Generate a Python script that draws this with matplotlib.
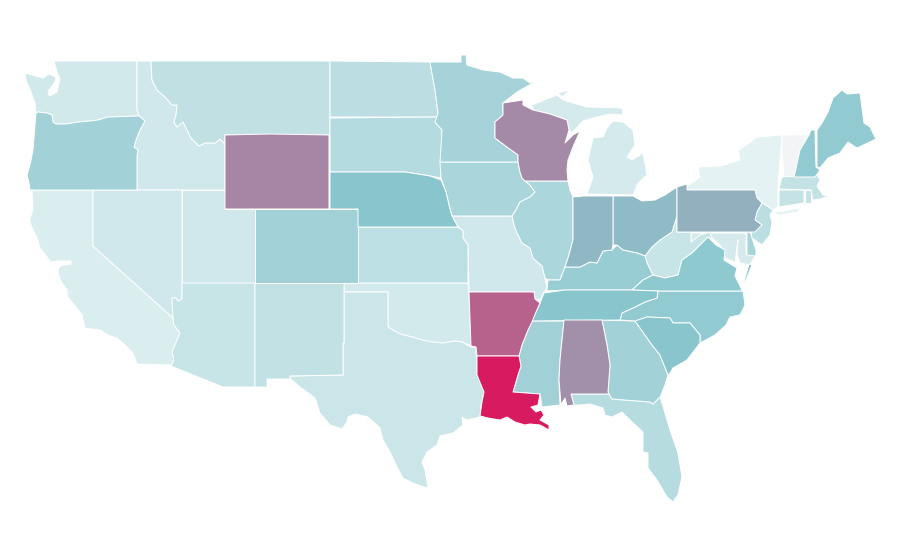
"""
plot.py
Choropleth of the lower 48 states, outlines traced from the picture in pixels.
"""

import matplotlib
matplotlib.use("Agg")
import matplotlib.pyplot as plt
from matplotlib.colors import LinearSegmentedColormap, Normalize
from matplotlib.patches import Polygon

STATES = ["VT", "NY", "CA", "WA", "MI", "ID", "NV", "UT", "OK", "MO", "MD", "TX",
          "AZ", "WV", "NM", "MT", "MA", "CT", "RI", "KS", "ND", "NJ", "FL", "SD",
          "IA", "IL", "DE", "MN", "OR", "GA", "CO", "MS", "KY", "NC", "ME", "NH",
          "VA", "TN", "NE", "SC", "OH", "IN", "PA", "AL", "WI", "WY", "AR", "LA"]
VALUES = [0, 6.5, 12, 16, 14.5, 17, 17, 17, 15.5, 16.5, 14.5, 19.5,
          21, 21, 23.5, 24.5, 23, 22, 22, 26, 26.5, 27, 28.5, 30,
          34.5, 34, 36, 37, 38, 38, 39, 39, 43, 46, 46, 46,
          47, 50, 50, 50, 53.5, 54, 56.5, 66, 67.5, 69, 79, 100]

# state outlines, in pixels of the 900x560 picture
OUTLINES = {
    "WA": [[(54, 61), (137, 61), (137, 110), (139, 116), (108, 117), (98, 120), (90, 121), (78, 122), (66, 124),
            (56, 124), (53, 122), (52, 115), (47, 113), (38, 112), (36, 113), (35, 103), (31, 92), (26, 80), (25, 73),
            (43, 78), (49, 74), (56, 77), (55, 82), (49, 90), (48, 94), (50, 96), (57, 92), (60, 79), (57, 72), (54, 61)]],
    "OR": [[(36, 113), (38, 112), (47, 113), (52, 115), (53, 122), (56, 124), (66, 124), (78, 122), (90, 121), (98, 120),
            (108, 117), (139, 116), (145, 121), (140, 130), (136, 140), (134, 147), (138, 150), (137, 156), (137, 190),
            (30, 190), (29, 183), (27, 175), (30, 165), (33, 150), (35, 125)]],
    "CA": [[(32, 190), (93, 190), (93, 246), (173, 318), (174, 325), (180, 333), (175, 345), (172, 352), (174, 360),
            (171, 365), (137, 364), (133, 353), (125, 345), (117, 338), (110, 336), (100, 330), (85, 328), (82, 315),
            (68, 297), (67, 290), (60, 280), (58, 270), (60, 266), (71, 264), (71, 261), (57, 261), (51, 262),
            (40, 248), (38, 240), (30, 223), (30, 218), (33, 210)]],
    "NV": [[(93, 190), (182, 190), (182, 299), (178, 301), (176, 298), (172, 298), (172, 300), (173, 318), (93, 246)]],
    "ID": [[(137, 61), (151, 61), (152, 80), (157, 90), (165, 97), (172, 105), (177, 105), (176, 115), (174, 122),
            (177, 127), (183, 122), (187, 130), (191, 138), (196, 143), (199, 146), (205, 143), (215, 143), (220, 139),
            (225, 144), (225, 190), (137, 190), (137, 156), (138, 150), (134, 147), (136, 140), (140, 130), (145, 121),
            (139, 116), (137, 110)]],
    "MT": [[(151, 61), (330, 61), (330, 135), (225, 135), (225, 144), (220, 139), (215, 143), (205, 143), (199, 146),
            (196, 143), (191, 138), (187, 130), (183, 122), (177, 127), (174, 122), (176, 115), (177, 105), (172, 105),
            (165, 97), (157, 90), (152, 80)]],
    "WY": [[(225, 135), (270, 134), (329, 135), (329, 209), (225, 209)]],
    "UT": [[(182, 190), (225, 190), (225, 209), (255, 209), (255, 283), (182, 283)]],
    "CO": [[(255, 209), (358, 209), (358, 283), (255, 283)]],
    "AZ": [[(182, 283), (255, 283), (255, 387), (223, 387), (171, 366), (174, 360), (172, 352), (175, 345), (180, 333),
            (174, 325), (173, 318), (172, 300), (172, 298), (176, 298), (178, 301), (182, 299)]],
    "NM": [[(255, 283), (344, 283), (344, 343), (343, 343), (343, 375), (290, 376), (290, 379), (267, 379), (267, 387),
            (255, 387)]],
    "TX": [[(344, 292), (388, 292), (388, 327), (400, 334), (412, 337), (422, 340), (432, 342), (443, 343), (455, 341),
            (462, 342), (471, 347), (476, 347), (477, 375), (484, 392), (481, 405), (480, 417), (467, 420), (462, 417),
            (463, 425), (453, 433), (440, 436), (437, 445), (427, 452), (422, 462), (425, 470), (428, 488), (415, 484),
            (403, 478), (397, 467), (390, 452), (383, 440), (380, 428), (368, 417), (355, 414), (348, 417), (347, 422),
            (342, 429), (330, 425), (320, 413), (315, 398), (300, 387), (290, 378), (290, 376), (343, 375), (343, 343),
            (344, 343)]],
    "OK": [[(344, 283), (468, 283), (469, 292), (471, 346), (462, 342), (455, 341), (443, 343), (432, 342), (422, 340),
            (412, 337), (400, 334), (388, 327), (388, 292), (344, 292)]],
    "KS": [[(358, 227), (458, 227), (463, 231), (463, 238), (468, 245), (468, 283), (358, 283)]],
    "NE": [[(330, 172), (405, 172), (418, 174), (430, 176), (441, 180), (446, 192), (449, 205), (452, 216), (458, 227),
            (358, 227), (358, 209), (330, 209)]],
    "SD": [[(330, 118), (438, 117), (435, 122), (442, 130), (441, 178), (430, 176), (418, 174), (405, 172), (330, 172)]],
    "ND": [[(330, 61), (430, 62), (435, 90), (438, 113), (438, 117), (330, 117)]],
    "MN": [[(430, 62), (461, 62), (461, 55), (466, 55), (467, 65), (483, 70), (500, 72), (513, 78), (523, 78), (530, 83),
            (540, 79), (533, 83), (517, 92), (503, 103), (503, 115), (495, 122), (495, 138), (507, 147), (518, 155),
            (518, 162), (440, 162), (442, 130), (435, 122), (438, 113), (435, 90)]],
    "IA": [[(440, 162), (518, 162), (520, 172), (522, 178), (530, 185), (535, 192), (530, 197), (520, 202), (516, 210),
            (512, 216), (452, 216), (449, 205), (446, 192), (441, 178)]],
    "MO": [[(452, 216), (512, 216), (514, 225), (517, 233), (522, 243), (530, 248), (533, 258), (542, 266), (545, 278),
            (547, 288), (544, 292), (540, 300), (535, 299), (534, 292), (469, 292), (468, 245), (463, 238), (463, 231),
            (458, 227)]],
    "AR": [[(469, 292), (534, 292), (535, 299), (540, 303), (536, 312), (532, 322), (528, 330), (522, 345), (519, 356),
            (477, 356), (476, 347), (471, 346)]],
    "LA": [[(477, 356), (519, 356), (521, 366), (518, 375), (513, 392), (540, 394), (538, 405), (531, 407), (536, 412),
            (541, 410), (544, 415), (540, 420), (549, 425), (549, 430), (540, 425), (530, 424), (525, 425), (515, 422),
            (507, 417), (500, 420), (488, 418), (480, 416), (482, 402), (484, 392), (477, 375)]],
    "MS": [[(531, 321), (564, 321), (560, 360), (559, 380), (560, 405), (542, 407), (540, 394), (513, 392), (518, 375),
            (521, 366), (519, 356), (522, 345), (528, 330)]],
    "AL": [[(564, 320), (602, 320), (607, 345), (610, 365), (608, 392), (609, 394), (571, 394), (574, 405), (567, 406),
            (565, 398), (561, 405), (559, 380), (560, 360)]],
    "FL": [[(571, 394), (609, 394), (612, 399), (650, 402), (653, 404), (660, 397), (662, 403), (670, 430), (678, 453),
            (682, 477), (678, 495), (673, 502), (667, 497), (657, 480), (648, 468), (648, 453), (643, 452), (643, 432),
            (630, 420), (622, 412), (612, 417), (605, 415), (603, 408), (590, 404), (580, 405), (574, 405)]],
    "GA": [[(602, 320), (635, 321), (640, 328), (652, 345), (660, 355), (666, 370), (668, 375), (665, 385), (661, 395),
            (660, 397), (653, 404), (650, 402), (612, 399), (609, 394), (608, 392), (610, 365), (607, 345)]],
    "SC": [[(635, 321), (647, 317), (670, 318), (673, 323), (690, 323), (700, 335), (700, 343), (687, 360), (673, 368),
            (670, 373), (668, 375), (666, 370), (660, 355), (652, 345), (640, 328)]],
    "NC": [[(658, 291), (743, 291), (745, 305), (740, 315), (730, 317), (726, 325), (715, 335), (700, 343), (700, 335),
            (690, 323), (673, 323), (670, 318), (647, 317), (635, 321), (620, 320), (622, 313), (635, 307), (645, 302),
            (657, 298)]],
    "TN": [[(544, 293), (565, 290), (605, 290), (632, 290), (658, 291), (657, 298), (645, 302), (635, 307), (622, 313),
            (620, 320), (531, 321), (536, 312), (540, 303)]],
    "KY": [[(547, 291), (548, 280), (560, 280), (565, 267), (580, 267), (590, 262), (597, 263), (603, 251), (612, 250),
            (617, 245), (623, 250), (638, 253), (645, 256), (647, 263), (653, 275), (643, 280), (632, 290), (605, 290),
            (565, 290)]],
    "VA": [[(632, 290), (643, 280), (653, 275), (665, 278), (678, 275), (682, 260), (692, 253), (700, 245), (708, 237),
            (716, 245), (725, 250), (724, 260), (737, 268), (735, 276), (742, 290), (743, 291), (658, 291)],
           [(749, 264), (752, 265), (746, 280), (743, 285)]],
    "WV": [[(645, 256), (652, 247), (660, 240), (672, 232), (677, 216), (677, 232), (691, 232), (691, 242), (700, 235),
            (710, 232), (712, 240), (708, 237), (700, 245), (692, 253), (682, 260), (678, 275), (665, 278), (653, 275),
            (647, 263)]],
    "OH": [[(613, 196), (633, 196), (642, 201), (655, 200), (665, 195), (677, 187), (677, 216), (672, 232), (660, 240),
            (652, 247), (645, 256), (638, 253), (623, 250), (617, 245), (613, 245)]],
    "IN": [[(573, 197), (583, 196), (613, 196), (613, 245), (612, 250), (603, 251), (597, 263), (590, 262), (580, 267),
            (565, 267), (568, 258), (573, 240)]],
    "IL": [[(525, 181), (568, 181), (570, 190), (573, 197), (573, 240), (568, 258), (565, 267), (560, 280), (548, 280),
            (545, 278), (542, 266), (533, 258), (530, 248), (522, 243), (517, 233), (514, 225), (512, 216), (516, 210),
            (520, 202), (530, 197), (535, 192), (530, 185)]],
    "WI": [[(503, 103), (523, 100), (523, 105), (533, 110), (550, 114), (567, 120), (569, 130), (565, 143), (573, 135),
            (580, 131), (573, 147), (568, 160), (567, 170), (568, 181), (525, 181), (522, 178), (520, 172), (518, 162),
            (518, 155), (507, 147), (495, 138), (495, 122), (503, 115)]],
    "MI": [[(587, 194), (593, 177), (588, 160), (593, 138), (603, 137), (607, 128), (613, 121), (623, 122), (633, 130),
            (635, 145), (627, 157), (632, 160), (643, 153), (647, 175), (638, 183), (633, 195)],
           [(532, 105), (557, 95), (563, 100), (587, 107), (622, 108), (623, 115), (610, 114), (597, 117), (583, 121),
            (572, 133), (569, 130), (567, 120), (550, 114), (533, 110)],
           [(558, 93), (570, 90), (562, 97)],
           [(549, 81), (556, 78), (553, 81)]],
    "NY": [[(687, 186), (700, 177), (698, 167), (720, 166), (740, 160), (738, 151), (757, 137), (782, 135), (778, 187),
            (778, 207), (773, 210), (762, 203), (757, 198), (755, 190), (687, 190)],
           [(772, 213), (800, 208), (797, 212), (780, 215)]],
    "PA": [[(677, 187), (687, 184), (687, 190), (755, 190), (757, 198), (762, 203), (757, 212), (755, 220), (762, 225),
            (755, 232), (677, 232)]],
    "NJ": [[(762, 203), (773, 210), (770, 215), (772, 222), (770, 235), (762, 245), (752, 238), (751, 232), (762, 225),
            (755, 220), (757, 212)]],
    "CT": [[(779, 190), (804, 190), (804, 203), (779, 207)]],
    "RI": [[(805, 190), (811, 190), (811, 203), (805, 203)]],
    "MA": [[(782, 177), (817, 175), (820, 180), (817, 186), (823, 195), (829, 196), (820, 199), (813, 200), (811, 190),
            (779, 189)]],
    "VT": [[(782, 135), (809, 135), (800, 150), (795, 173), (794, 177), (784, 177), (782, 150)]],
    "NH": [[(811, 130), (815, 130), (816, 167), (820, 170), (815, 177), (794, 177), (795, 173), (800, 150), (809, 135)]],
    "ME": [[(817, 130), (822, 123), (828, 112), (833, 98), (842, 90), (847, 94), (860, 93), (864, 123), (870, 127),
            (876, 139), (857, 148), (848, 142), (840, 153), (828, 158), (820, 168), (817, 167)]],
    "MD": [[(691, 233), (746, 233), (746, 254), (755, 256), (750, 265), (740, 263), (737, 254), (738, 240), (735, 262),
            (725, 258), (724, 250), (718, 243), (710, 236), (700, 238), (691, 243)]],
    "DE": [[(747, 232), (750, 232), (756, 250), (756, 256), (747, 255)]],
}

cmap = LinearSegmentedColormap.from_list(
    "pale_teal_pink",
    [(0.0, "#f3f4f6"), (0.065, "#e5f2f4"), (0.12, "#daedef"), (0.5, "#89c6cd"), (1.0, "#d81b60")])
norm = Normalize(0, 100)

fig = plt.figure(figsize=(9, 5.6), dpi=100)
ax = fig.add_axes([0, 0, 1, 1])
ax.set_xlim(0, 900)
ax.set_ylim(560, 0)
ax.axis("off")

for state, value in zip(STATES, VALUES):
    for ring in OUTLINES[state]:
        ax.add_patch(Polygon(ring, closed=True, facecolor=cmap(norm(value)),
                             edgecolor="white", linewidth=0.7, joinstyle="round"))

fig.savefig("out.png", dpi=100)
